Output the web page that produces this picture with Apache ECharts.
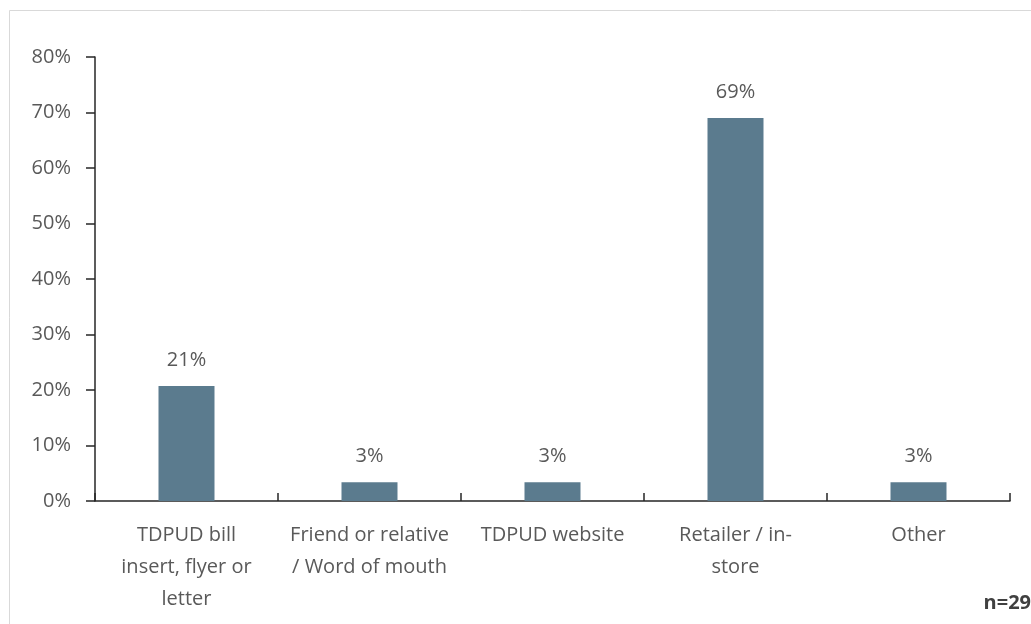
<!DOCTYPE html>
<html>
<head>
<meta charset="utf-8">
<script src="https://cdn.jsdelivr.net/npm/echarts@6/dist/echarts.min.js"></script>
<style>
html,body{margin:0;padding:0;background:#fff;}
#chart{width:1031px;height:624px;}
</style>
</head>
<body>
<div id="chart"></div>
<script>
const categories = [
  "TDPUD bill\ninsert, flyer or\nletter",
  "Friend or relative\n/ Word of mouth",
  "TDPUD website",
  "Retailer / in-\nstore",
  "Other"
];
const values = [20.7, 3.4, 3.4, 69.0, 3.4];
const yTicks = { min: 0, max: 80, interval: 10 };
const note = "n=29";

const FONT = "Open Sans";
const TXT = "#595959";
const chart = echarts.init(document.getElementById('chart'), null, {renderer: 'canvas'});
chart.setOption({
  backgroundColor: '#ffffff',
  animation: false,
  graphic: [
    { type: 'rect', shape: { x: 9.5, y: 10.5, width: 1040, height: 640 }, style: { fill: 'none', stroke: '#d9d9d9', lineWidth: 1 }, silent: true },
    { type: 'text', right: 0, top: 593, style: { text: note, font: 'bold 20px "Open Sans"', fill: '#404040' } }
  ],
  grid: { left: 95, right: 21, top: 57, bottom: 123, containLabel: false },
  xAxis: {
    type: 'category',
    data: categories,
    axisLine: { lineStyle: { color: '#262626', width: 1.5 } },
    axisTick: { show: true, inside: true, length: 8, alignWithLabel: false, lineStyle: { color: '#262626', width: 1.5 } },
    axisLabel: { color: TXT, fontFamily: FONT, fontSize: 20, lineHeight: 32, margin: 18, interval: 0 }
  },
  yAxis: {
    type: 'value',
    min: yTicks.min, max: yTicks.max, interval: yTicks.interval,
    splitLine: { show: false },
    axisLine: { show: true, lineStyle: { color: '#262626', width: 1.5 } },
    axisTick: { show: true, length: 9, lineStyle: { color: '#262626', width: 1.5 } },
    axisLabel: { formatter: '{value}%', color: TXT, fontFamily: FONT, fontSize: 20, margin: 24 }
  },
  series: [{
    type: 'bar',
    data: values,
    barWidth: '30.6%',
    itemStyle: { color: '#5b7b8e' },
    label: {
      show: true, position: 'top', distance: 16,
      formatter: p => Math.round(p.value) + '%',
      color: TXT, fontFamily: FONT, fontSize: 20
    }
  }]
});
</script>
</body>
</html>
